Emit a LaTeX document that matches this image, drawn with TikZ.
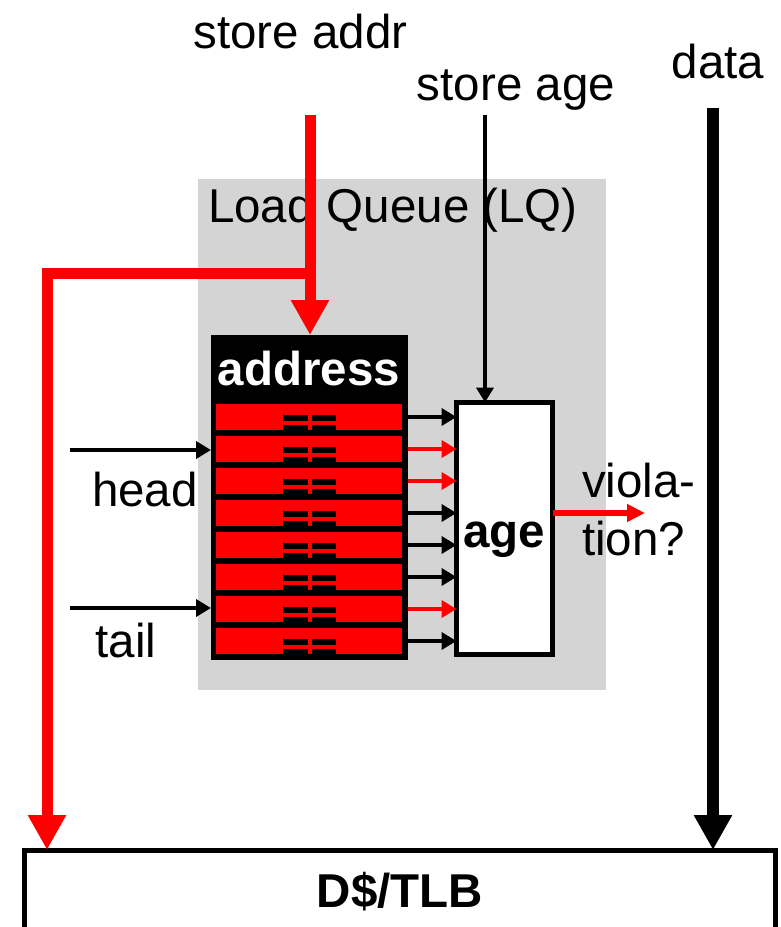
\documentclass[tikz,border=0pt]{standalone}
\usepackage{fontspec}
\setmainfont{Liberation Sans}
\usepackage{tikz}
\usetikzlibrary{arrows.meta}
\usepackage{xcolor}

\definecolor{lqgray}{RGB}{212,212,212}
\definecolor{sigred}{RGB}{255,0,0}

\begin{document}
\begin{tikzpicture}[x=1pt,y=-1pt,
  lbl/.style={anchor=base,inner sep=0pt,font=\fontsize{47.5}{55}\selectfont},
  boldlbl/.style={lbl,font=\fontsize{47.5}{55}\selectfont\bfseries},
  box/.style={inner sep=0pt,outer sep=0pt},
  bus/.style={line width=11pt,-{Triangle[length=35pt,width=36pt]}},
  wire/.style={line width=4.5pt,-{Triangle[length=15pt,width=17pt]}},
]
  \useasboundingbox (0,0) rectangle (780,927);
  \clip (0,0) rectangle (780,927);

  % load queue background
  \node (lq) [box,fill=lqgray,minimum width=408pt,minimum height=511pt] at (402,434.5) {};
  \node (lqlbl) [lbl] at (393,222) {Load Queue (LQ)};

  % address CAM with its rows
  \node (addr) [box,fill=black,minimum width=197pt,minimum height=325pt] at (309.5,497.5) {};
  \node (addrlbl) [boldlbl,text=white] at (309,385) {address};
  \foreach \i [evaluate=\i as \y using 417+32*(\i-1)] in {1,...,8} {
    \node (r\i) [box,fill=sigred,minimum width=186pt,minimum height=26pt] at (309,\y) {};
    % comparator marks
    \fill (283,\y-2) rectangle (307.5,\y+3.5);
    \fill (311.5,\y-2) rectangle (336,\y+3.5);
    \fill (283,\y+8) rectangle (307.5,\y+13);
    \fill (311.5,\y+8) rectangle (336,\y+13);
  }

  % age logic
  \node (age) [box,draw,line width=5pt,fill=white,minimum width=96pt,minimum height=252pt] at (504.5,528.5) {};
  \node (agelbl) [boldlbl] at (504,547) {age};
  \foreach \i/\c in {1/black,2/sigred,3/sigred,4/black,5/black,6/black,7/sigred,8/black}
    \draw [wire,\c] (r\i.east -| addr.east) -- (r\i.east -| age.west);

  % cache
  \node (dtlb) [box,draw,line width=5pt,minimum width=751pt,minimum height=100pt] at (399.5,900) {};
  \node (dtlblbl) [boldlbl] at (400,907) {D\$/TLB};

  % inputs
  \node (saddr) [lbl] at (300.5,48) {store addr};
  \node (sage) [lbl] at (516,100) {store age};
  \node (data) [lbl] at (718,78) {data};
  \node (head) [lbl] at (145,506) {head};
  \node (tail) [lbl] at (126,657) {tail};
  \node (viol1) [lbl,anchor=base west] at (582,497) {viola-};
  \node (viol2) [lbl,anchor=base west] at (582,555) {tion?};

  \coordinate (addrin) at (310,115);
  \coordinate (split) at (310,273);
  \coordinate (bend) at (47,273);
  \coordinate (agein) at (485,115);
  \coordinate (datain) at (713,108);
  \coordinate (headin) at (70,450);
  \coordinate (tailin) at (70,608);
  \coordinate (violout) at (645,513);

  \draw [bus,sigred] (split) -- (bend) -- (bend |- dtlb.north);
  \draw [bus,sigred] (addrin) -- (addrin |- addr.north);
  \draw [bus,line width=12pt] (datain) -- (datain |- dtlb.north);
  \draw [wire] (agein) -- (agein |- age.north);
  \draw [wire] (headin) -- (headin -| addr.west);
  \draw [wire] (tailin) -- (tailin -| addr.west);
  \draw [sigred,line width=5.5pt,-{Triangle[length=18pt,width=17pt]}] (age.east |- violout) -- (violout);
\end{tikzpicture}
\end{document}
